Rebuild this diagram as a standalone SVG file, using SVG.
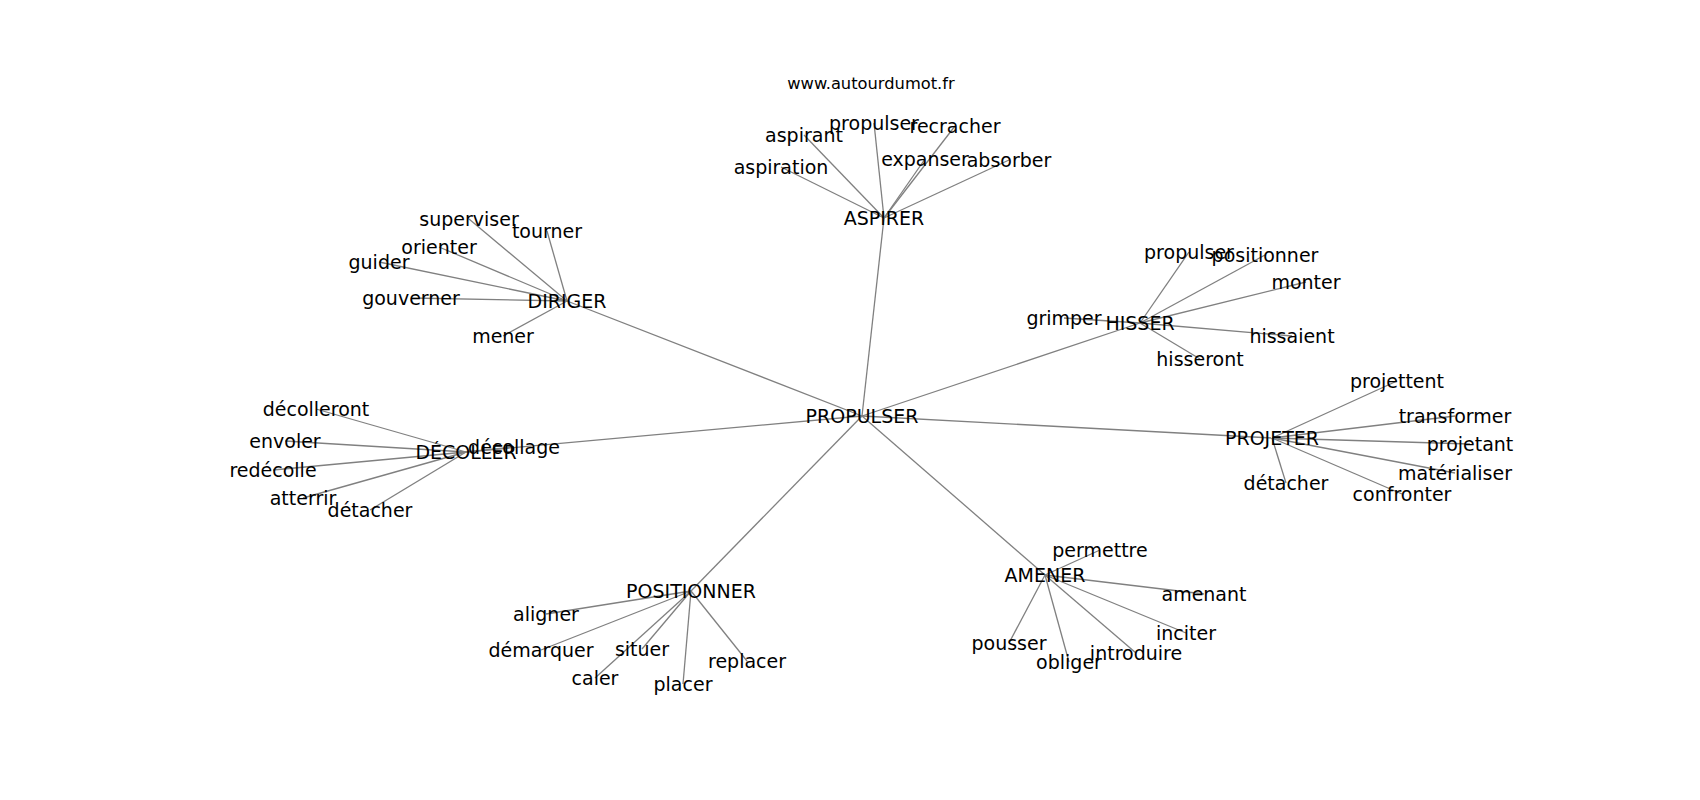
<svg xmlns="http://www.w3.org/2000/svg" width="1700" height="800" viewBox="0 0 1700 800">
<style>
.e line{stroke:#808080;stroke-width:1.3;fill:none}
text{font-family:"DejaVu Sans","Liberation Sans",sans-serif;font-size:19px;fill:#000;text-anchor:middle}
.title{font-size:16.3px}
</style>
<rect width="1700" height="800" fill="#fff"/>
<g id="edges" class="e">
<line x1="862" y1="416" x2="884" y2="218"/>
<line x1="862" y1="416" x2="567" y2="301"/>
<line x1="862" y1="416" x2="466" y2="452"/>
<line x1="862" y1="416" x2="1140" y2="323"/>
<line x1="862" y1="416" x2="1272" y2="438"/>
<line x1="862" y1="416" x2="691" y2="591"/>
<line x1="862" y1="416" x2="1045" y2="575"/>
<line x1="884" y1="218" x2="781" y2="167"/>
<line x1="884" y1="218" x2="804" y2="135"/>
<line x1="884" y1="218" x2="874" y2="123"/>
<line x1="884" y1="218" x2="955" y2="126"/>
<line x1="884" y1="218" x2="925" y2="159"/>
<line x1="884" y1="218" x2="1009" y2="160"/>
<line x1="567" y1="301" x2="469" y2="219"/>
<line x1="567" y1="301" x2="547" y2="231"/>
<line x1="567" y1="301" x2="439" y2="247"/>
<line x1="567" y1="301" x2="379" y2="262"/>
<line x1="567" y1="301" x2="411" y2="298"/>
<line x1="567" y1="301" x2="503" y2="336"/>
<line x1="466" y1="452" x2="316" y2="409"/>
<line x1="466" y1="452" x2="285" y2="441"/>
<line x1="466" y1="452" x2="273" y2="470"/>
<line x1="466" y1="452" x2="303" y2="498"/>
<line x1="466" y1="452" x2="370" y2="510"/>
<line x1="466" y1="452" x2="514" y2="447"/>
<line x1="1140" y1="323" x2="1189" y2="252"/>
<line x1="1140" y1="323" x2="1265" y2="255"/>
<line x1="1140" y1="323" x2="1306" y2="282"/>
<line x1="1140" y1="323" x2="1064" y2="318"/>
<line x1="1140" y1="323" x2="1292" y2="336"/>
<line x1="1140" y1="323" x2="1200" y2="359"/>
<line x1="1272" y1="438" x2="1397" y2="381"/>
<line x1="1272" y1="438" x2="1455" y2="416"/>
<line x1="1272" y1="438" x2="1470" y2="444"/>
<line x1="1272" y1="438" x2="1455" y2="473"/>
<line x1="1272" y1="438" x2="1286" y2="483"/>
<line x1="1272" y1="438" x2="1402" y2="494"/>
<line x1="691" y1="591" x2="546" y2="614"/>
<line x1="691" y1="591" x2="541" y2="650"/>
<line x1="691" y1="591" x2="642" y2="649"/>
<line x1="691" y1="591" x2="747" y2="661"/>
<line x1="691" y1="591" x2="595" y2="678"/>
<line x1="691" y1="591" x2="683" y2="684"/>
<line x1="1045" y1="575" x2="1100" y2="550"/>
<line x1="1045" y1="575" x2="1204" y2="594"/>
<line x1="1045" y1="575" x2="1186" y2="633"/>
<line x1="1045" y1="575" x2="1009" y2="643"/>
<line x1="1045" y1="575" x2="1136" y2="653"/>
<line x1="1045" y1="575" x2="1069" y2="662"/>
</g>
<text class="title" x="871" y="88.5">www.autourdumot.fr</text>
<g transform="translate(0,1.5)">
<g id="n-propulser"><text x="862" y="421">PROPULSER</text></g>
<g id="n-aspirer"><text x="884" y="223">ASPIRER</text></g>
<g id="n-aspiration"><text x="781" y="172">aspiration</text></g>
<g id="n-aspirant"><text x="804" y="140">aspirant</text></g>
<g id="n-propulser-a"><text x="874" y="128">propulser</text></g>
<g id="n-recracher"><text x="955" y="131">recracher</text></g>
<g id="n-expanser"><text x="925" y="164">expanser</text></g>
<g id="n-absorber"><text x="1009" y="165">absorber</text></g>
<g id="n-diriger"><text x="567" y="306">DIRIGER</text></g>
<g id="n-superviser"><text x="469" y="224">superviser</text></g>
<g id="n-tourner"><text x="547" y="236">tourner</text></g>
<g id="n-orienter"><text x="439" y="252">orienter</text></g>
<g id="n-guider"><text x="379" y="267">guider</text></g>
<g id="n-gouverner"><text x="411" y="303">gouverner</text></g>
<g id="n-mener"><text x="503" y="341">mener</text></g>
<g id="n-decoller"><text x="466" y="457">DÉCOLLER</text></g>
<g id="n-decolleront"><text x="316" y="414">décolleront</text></g>
<g id="n-envoler"><text x="285" y="446">envoler</text></g>
<g id="n-redecolle"><text x="273" y="475">redécolle</text></g>
<g id="n-atterrir"><text x="303" y="503">atterrir</text></g>
<g id="n-detacher-d"><text x="370" y="515">détacher</text></g>
<g id="n-decollage"><text x="514" y="452">décollage</text></g>
<g id="n-hisser"><text x="1140" y="328">HISSER</text></g>
<g id="n-propulser-h"><text x="1189" y="257">propulser</text></g>
<g id="n-positionner-h"><text x="1265" y="260">positionner</text></g>
<g id="n-monter"><text x="1306" y="287">monter</text></g>
<g id="n-grimper"><text x="1064" y="323">grimper</text></g>
<g id="n-hissaient"><text x="1292" y="341">hissaient</text></g>
<g id="n-hisseront"><text x="1200" y="364">hisseront</text></g>
<g id="n-projeter"><text x="1272" y="443">PROJETER</text></g>
<g id="n-projettent"><text x="1397" y="386">projettent</text></g>
<g id="n-transformer"><text x="1455" y="421">transformer</text></g>
<g id="n-projetant"><text x="1470" y="449">projetant</text></g>
<g id="n-materialiser"><text x="1455" y="478">matérialiser</text></g>
<g id="n-detacher-p"><text x="1286" y="488">détacher</text></g>
<g id="n-confronter"><text x="1402" y="499">confronter</text></g>
<g id="n-positionner"><text x="691" y="596">POSITIONNER</text></g>
<g id="n-aligner"><text x="546" y="619">aligner</text></g>
<g id="n-demarquer"><text x="541" y="655">démarquer</text></g>
<g id="n-situer"><text x="642" y="654">situer</text></g>
<g id="n-replacer"><text x="747" y="666">replacer</text></g>
<g id="n-caler"><text x="595" y="683">caler</text></g>
<g id="n-placer"><text x="683" y="689">placer</text></g>
<g id="n-amener"><text x="1045" y="580">AMENER</text></g>
<g id="n-permettre"><text x="1100" y="555">permettre</text></g>
<g id="n-amenant"><text x="1204" y="599">amenant</text></g>
<g id="n-inciter"><text x="1186" y="638">inciter</text></g>
<g id="n-pousser"><text x="1009" y="648">pousser</text></g>
<g id="n-introduire"><text x="1136" y="658">introduire</text></g>
<g id="n-obliger"><text x="1069" y="667">obliger</text></g>
</g>
</svg>
